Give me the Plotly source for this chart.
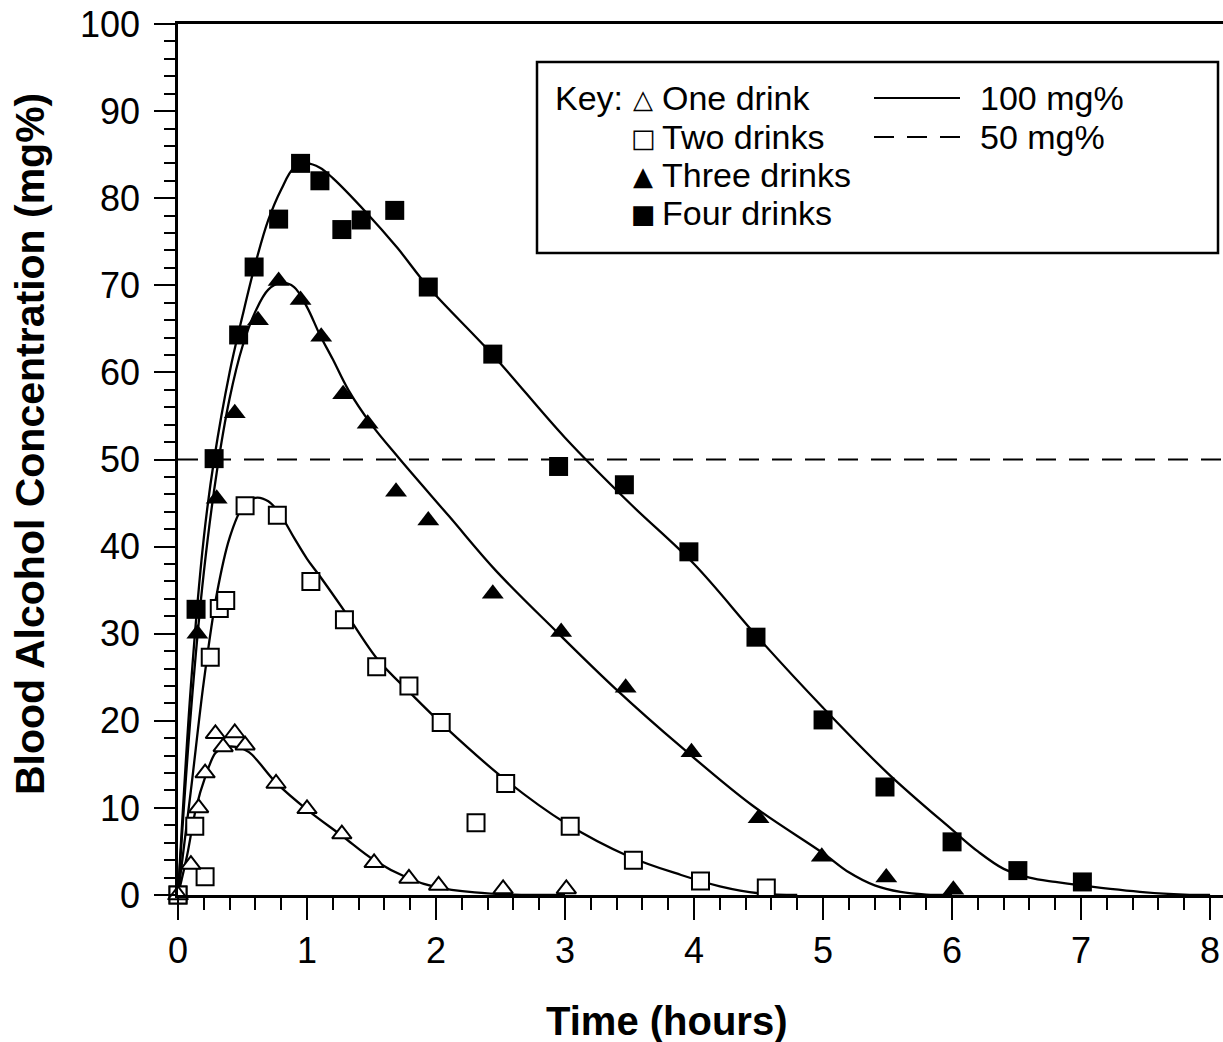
import plotly.graph_objects as go

# ---------------- data ----------------
one_x = [0, 0.10, 0.16, 0.21, 0.29, 0.35, 0.44, 0.52, 0.76, 1.00, 1.27, 1.52, 1.79, 2.02, 2.52, 3.01]
one_y = [0, 3.5, 10.0, 14.0, 18.5, 17.0, 18.6, 17.2, 12.8, 9.9, 7.0, 3.7, 1.9, 1.1, 0.7, 0.7]

two_x = [0, 0.13, 0.21, 0.25, 0.32, 0.37, 0.52, 0.77, 1.03, 1.29, 1.54, 1.79, 2.04, 2.31, 2.54, 3.04, 3.53, 4.05, 4.56]
two_y = [0, 7.9, 2.1, 27.3, 32.9, 33.8, 44.7, 43.6, 36.0, 31.6, 26.2, 24.0, 19.8, 8.3, 12.8, 7.9, 4.0, 1.6, 0.8]

three_x = [0, 0.15, 0.30, 0.44, 0.62, 0.78, 0.95, 1.11, 1.28, 1.47, 1.69, 1.94, 2.44, 2.97, 3.47, 3.98, 4.50, 4.99, 5.49, 6.01]
three_y = [0, 30.0, 45.5, 55.3, 66.0, 70.5, 68.3, 64.1, 57.5, 54.1, 46.3, 43.0, 34.6, 30.2, 23.8, 16.4, 8.8, 4.4, 2.0, 0.6]

four_x = [0, 0.14, 0.28, 0.47, 0.59, 0.78, 0.95, 1.10, 1.27, 1.42, 1.68, 1.94, 2.44, 2.95, 3.46, 3.96, 4.48, 5.00, 5.48, 6.00, 6.51, 7.01]
four_y = [0, 32.8, 50.1, 64.3, 72.1, 77.6, 84.0, 82.0, 76.4, 77.5, 78.6, 69.8, 62.1, 49.2, 47.1, 39.4, 29.6, 20.1, 12.4, 6.1, 2.8, 1.5]

# fitted curves
fit_one_x = [0, 0.07, 0.14, 0.21, 0.29, 0.35, 0.45, 0.55, 0.76, 1.0, 1.27, 1.52, 1.79, 2.0, 2.3, 2.6, 3.0]
fit_one_y = [0, 4.5, 10.0, 13.5, 16.3, 16.9, 17.0, 16.4, 12.9, 9.8, 6.8, 4.0, 1.9, 0.9, 0.3, 0.05, 0]

fit_two_x = [0, 0.1, 0.2, 0.3, 0.4, 0.5, 0.6, 0.7, 0.8, 0.9, 1.0, 1.1, 1.3, 1.55, 1.8, 2.07, 2.54, 3.0, 3.5, 3.9, 4.2, 4.5, 4.8]
fit_two_y = [0, 12, 24.5, 34.5, 41, 44.5, 45.6, 45.2, 43.5, 41, 38.6, 36.6, 32.4, 27.0, 23.2, 19.3, 13.2, 8.3, 4.4, 2.3, 1.0, 0.2, 0]

fit_three_x = [0, 0.1, 0.2, 0.3, 0.4, 0.5, 0.6, 0.7, 0.8, 0.9, 1.0, 1.1, 1.2, 1.32, 1.5, 1.71, 2.1, 2.46, 2.93, 3.39, 3.9, 4.45, 5.0, 5.2, 5.4, 5.6, 5.8, 6.0]
fit_three_y = [0, 21, 37, 48.5, 57, 63, 67, 69.5, 70.3, 69.8, 67.5, 64.3, 61.5, 58, 54, 50.2, 43.5, 37.3, 30.3, 23.7, 17.0, 10.3, 4.8, 2.6, 1.1, 0.35, 0.05, 0]

fit_four_x = [0, 0.1, 0.2, 0.28, 0.4, 0.5, 0.6, 0.7, 0.8, 0.9, 1.0, 1.1, 1.2, 1.45, 1.7, 1.94, 2.44, 3.0, 3.5, 4.0, 4.5, 5.0, 5.5, 6.0, 6.2, 6.4, 6.6, 6.8, 7.0, 7.5, 7.8, 8.0]
fit_four_y = [0, 24, 41, 50, 60, 66.5, 72.5, 77.5, 81, 83.5, 84, 83.5, 82.3, 78.5, 74.3, 69.8, 62, 52.5, 45, 38, 29.5, 21.5, 14, 7.5, 5.0, 3.0, 2.0, 1.5, 1.1, 0.3, 0.05, 0]

x_ticks = [0, 1, 2, 3, 4, 5, 6, 7, 8]
y_ticks = [0, 10, 20, 30, 40, 50, 60, 70, 80, 90, 100]
limit_level = 50

legend_rows = ["One drink", "Two drinks", "Three drinks", "Four drinks"]
legend_syms = ["\u25B3", "\u25A1", "\u25B2", "\u25A0"]
line_labels = ["100 mg%", "50 mg%"]

# ---------------- figure ----------------
FONT = "Liberation Sans, Arial, Helvetica, sans-serif"
fig = go.Figure()

for fx, fy in [(fit_one_x, fit_one_y), (fit_two_x, fit_two_y),
               (fit_three_x, fit_three_y), (fit_four_x, fit_four_y)]:
    fig.add_trace(go.Scatter(x=fx, y=fy, mode="lines",
                             line=dict(color="black", width=2.3, shape="spline", smoothing=1.0),
                             cliponaxis=False, hoverinfo="skip"))

fig.add_trace(go.Scatter(x=four_x, y=four_y, mode="markers", name="Four drinks",
                         marker=dict(symbol="square", size=19, color="black"), cliponaxis=False))
fig.add_trace(go.Scatter(x=three_x, y=three_y, mode="markers", name="Three drinks",
                         marker=dict(symbol="triangle-up", size=19, color="black"), cliponaxis=False))
fig.add_trace(go.Scatter(x=two_x, y=two_y, mode="markers", name="Two drinks",
                         marker=dict(symbol="square", size=17, color="white",
                                     line=dict(color="black", width=2)), cliponaxis=False))
fig.add_trace(go.Scatter(x=one_x, y=one_y, mode="markers", name="One drink",
                         marker=dict(symbol="triangle-up", size=17, color="white",
                                     line=dict(color="black", width=2)), cliponaxis=False))

# 50 mg% dashed line
fig.add_shape(type="line", xref="paper", x0=0, x1=1, yref="y", y0=limit_level, y1=limit_level,
              line=dict(color="black", width=2, dash="20px,13px"))

# ---------------- key box ----------------
L, W, B, H = 178, 1045, 895, 871
def px(x):
    return (x - L) / W
def py(y):
    return (B - y) / H

fig.add_shape(type="rect", xref="paper", yref="paper",
              x0=px(537), x1=px(1218), y0=py(253), y1=py(62),
              line=dict(color="black", width=2.5), fillcolor="white")

row_y = [98, 137, 175, 213]
fig.add_annotation(xref="paper", yref="paper", x=px(553), y=py(row_y[0]), text="Key:",
                   showarrow=False, xanchor="left", yanchor="middle",
                   font=dict(family=FONT, size=34, color="black"))
for sym, lab, ry in zip(legend_syms, legend_rows, row_y):
    fig.add_annotation(xref="paper", yref="paper", x=px(643), y=py(ry + 1), text=sym,
                       showarrow=False, xanchor="center", yanchor="middle",
                       font=dict(family="DejaVu Sans", size=26, color="black"))
    fig.add_annotation(xref="paper", yref="paper", x=px(660), y=py(ry), text=lab,
                       showarrow=False, xanchor="left", yanchor="middle",
                       font=dict(family=FONT, size=34, color="black"))

fig.add_shape(type="line", xref="paper", yref="paper", x0=px(874), x1=px(960),
              y0=py(row_y[0]), y1=py(row_y[0]), line=dict(color="black", width=2))
fig.add_shape(type="line", xref="paper", yref="paper", x0=px(874), x1=px(960),
              y0=py(row_y[1]), y1=py(row_y[1]), line=dict(color="black", width=2, dash="20px,13px"))
for lab, ry in zip(line_labels, row_y[:2]):
    fig.add_annotation(xref="paper", yref="paper", x=px(978), y=py(ry), text=lab,
                       showarrow=False, xanchor="left", yanchor="middle",
                       font=dict(family=FONT, size=34, color="black"))

# axis titles
fig.add_annotation(xref="paper", yref="paper", x=px(667), y=py(1021), text="<b>Time (hours)</b>",
                   showarrow=False, xanchor="center", yanchor="middle",
                   font=dict(family=FONT, size=40, color="black"))
fig.add_annotation(xref="paper", yref="paper", x=px(30), y=py(444),
                   text="<b>Blood Alcohol Concentration (mg%)</b>", textangle=-90,
                   showarrow=False, xanchor="center", yanchor="middle",
                   font=dict(family=FONT, size=41, color="black"))

fig.update_layout(
    width=1223, height=1042,
    margin=dict(l=L, r=0, t=24, b=147),
    paper_bgcolor="white", plot_bgcolor="white",
    showlegend=False,
    xaxis=dict(range=[0, 8.1], tickvals=x_ticks, ticktext=[str(v) for v in x_ticks],
               ticks="outside", ticklen=22, tickwidth=2, tickcolor="black",
               showline=True, linewidth=2.5, linecolor="black", mirror=True,
               showgrid=False, zeroline=False, ticklabelstandoff=0,
               tickfont=dict(family=FONT, size=36, color="black"),
               minor=dict(dtick=0.2, ticks="outside", ticklen=12, tickwidth=2,
                          tickcolor="black", showgrid=False)),
    yaxis=dict(range=[0, 100], tickvals=y_ticks, ticktext=[str(v) for v in y_ticks],
               ticks="outside", ticklen=21, tickwidth=2, tickcolor="black",
               showline=True, linewidth=2.5, linecolor="black",
               showgrid=False, zeroline=False, ticklabelstandoff=7,
               tickfont=dict(family=FONT, size=36, color="black"),
               minor=dict(dtick=2, ticks="outside", ticklen=11, tickwidth=2,
                          tickcolor="black", showgrid=False)),
)

fig.write_html("out.html", config={"displayModeBar": False},
               post_script="document.body.style.margin='0px';")
